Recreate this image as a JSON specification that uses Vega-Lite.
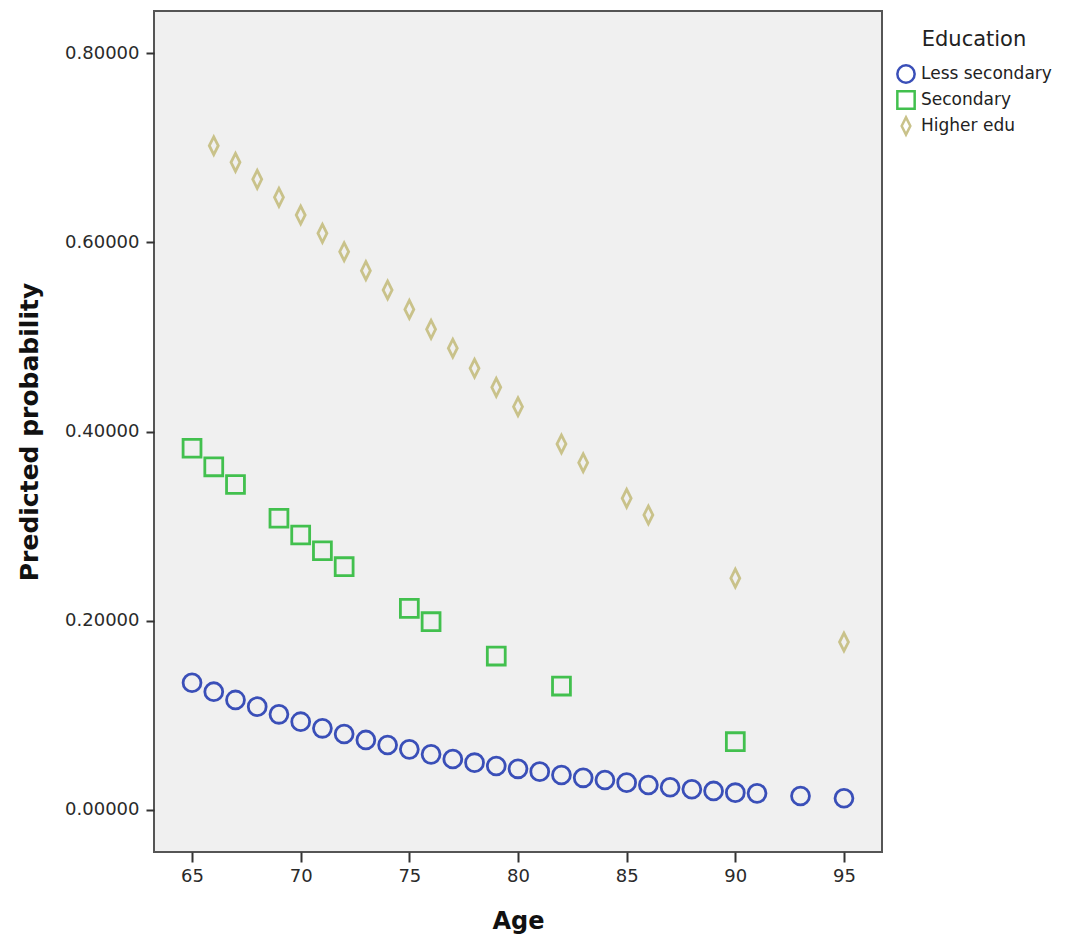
{
  "$schema": "https://vega.github.io/schema/vega-lite/v6.json",
  "width": 728,
  "height": 841,
  "autosize": "none",
  "padding": {"left": 154, "top": 11, "right": 191, "bottom": 86},
  "background": "white",
  "config": {
    "font": "DejaVu Sans",
    "view": {"fill": "#f0f0f0", "stroke": "#555555", "strokeWidth": 2},
    "axis": {"grid": false, "domain": false, "tickColor": "#333333", "tickWidth": 2, "labelColor": "#2a2a2a", "titleColor": "#111111", "labelFont": "DejaVu Sans", "titleFont": "DejaVu Sans"}
  },
  "data": {
    "values": [
      {"Age": 65, "Prob": 0.1345, "Education": "Less secondary"},
      {"Age": 66, "Prob": 0.125, "Education": "Less secondary"},
      {"Age": 67, "Prob": 0.1163, "Education": "Less secondary"},
      {"Age": 68, "Prob": 0.1092, "Education": "Less secondary"},
      {"Age": 69, "Prob": 0.1011, "Education": "Less secondary"},
      {"Age": 70, "Prob": 0.0933, "Education": "Less secondary"},
      {"Age": 71, "Prob": 0.0863, "Education": "Less secondary"},
      {"Age": 72, "Prob": 0.0803, "Education": "Less secondary"},
      {"Age": 73, "Prob": 0.074, "Education": "Less secondary"},
      {"Age": 74, "Prob": 0.0687, "Education": "Less secondary"},
      {"Age": 75, "Prob": 0.0641, "Education": "Less secondary"},
      {"Age": 76, "Prob": 0.0588, "Education": "Less secondary"},
      {"Age": 77, "Prob": 0.0539, "Education": "Less secondary"},
      {"Age": 78, "Prob": 0.05, "Education": "Less secondary"},
      {"Age": 79, "Prob": 0.0465, "Education": "Less secondary"},
      {"Age": 80, "Prob": 0.0435, "Education": "Less secondary"},
      {"Age": 81, "Prob": 0.0405, "Education": "Less secondary"},
      {"Age": 82, "Prob": 0.037, "Education": "Less secondary"},
      {"Age": 83, "Prob": 0.034, "Education": "Less secondary"},
      {"Age": 84, "Prob": 0.0317, "Education": "Less secondary"},
      {"Age": 85, "Prob": 0.0289, "Education": "Less secondary"},
      {"Age": 86, "Prob": 0.0264, "Education": "Less secondary"},
      {"Age": 87, "Prob": 0.024, "Education": "Less secondary"},
      {"Age": 88, "Prob": 0.0219, "Education": "Less secondary"},
      {"Age": 89, "Prob": 0.0201, "Education": "Less secondary"},
      {"Age": 90, "Prob": 0.0183, "Education": "Less secondary"},
      {"Age": 91, "Prob": 0.0176, "Education": "Less secondary"},
      {"Age": 93, "Prob": 0.0148, "Education": "Less secondary"},
      {"Age": 95, "Prob": 0.0124, "Education": "Less secondary"},
      {"Age": 65, "Prob": 0.3823, "Education": "Secondary"},
      {"Age": 66, "Prob": 0.3627, "Education": "Secondary"},
      {"Age": 67, "Prob": 0.344, "Education": "Secondary"},
      {"Age": 69, "Prob": 0.3083, "Education": "Secondary"},
      {"Age": 70, "Prob": 0.2906, "Education": "Secondary"},
      {"Age": 71, "Prob": 0.274, "Education": "Secondary"},
      {"Age": 72, "Prob": 0.2571, "Education": "Secondary"},
      {"Age": 75, "Prob": 0.2131, "Education": "Secondary"},
      {"Age": 76, "Prob": 0.199, "Education": "Secondary"},
      {"Age": 79, "Prob": 0.1627, "Education": "Secondary"},
      {"Age": 82, "Prob": 0.131, "Education": "Secondary"},
      {"Age": 90, "Prob": 0.0722, "Education": "Secondary"},
      {"Age": 66, "Prob": 0.702, "Education": "Higher edu"},
      {"Age": 67, "Prob": 0.6845, "Education": "Higher edu"},
      {"Age": 68, "Prob": 0.6665, "Education": "Higher edu"},
      {"Age": 69, "Prob": 0.6475, "Education": "Higher edu"},
      {"Age": 70, "Prob": 0.6288, "Education": "Higher edu"},
      {"Age": 71, "Prob": 0.6094, "Education": "Higher edu"},
      {"Age": 72, "Prob": 0.59, "Education": "Higher edu"},
      {"Age": 73, "Prob": 0.57, "Education": "Higher edu"},
      {"Age": 74, "Prob": 0.5495, "Education": "Higher edu"},
      {"Age": 75, "Prob": 0.529, "Education": "Higher edu"},
      {"Age": 76, "Prob": 0.508, "Education": "Higher edu"},
      {"Age": 77, "Prob": 0.488, "Education": "Higher edu"},
      {"Age": 78, "Prob": 0.4668, "Education": "Higher edu"},
      {"Age": 79, "Prob": 0.4467, "Education": "Higher edu"},
      {"Age": 80, "Prob": 0.4262, "Education": "Higher edu"},
      {"Age": 82, "Prob": 0.3868, "Education": "Higher edu"},
      {"Age": 83, "Prob": 0.367, "Education": "Higher edu"},
      {"Age": 85, "Prob": 0.3294, "Education": "Higher edu"},
      {"Age": 86, "Prob": 0.3118, "Education": "Higher edu"},
      {"Age": 90, "Prob": 0.245, "Education": "Higher edu"},
      {"Age": 95, "Prob": 0.1775, "Education": "Higher edu"}
    ]
  },
  "mark": {"type": "point", "filled": false, "size": 320, "strokeWidth": 2.8, "opacity": 1},
  "encoding": {
    "x": {
      "field": "Age", "type": "quantitative",
      "scale": {"domain": [63.25, 96.75], "nice": false, "zero": false},
      "axis": {"values": [65, 70, 75, 80, 85, 90, 95], "tickSize": 10, "labelFontSize": 18, "labelPadding": 5, "title": "Age", "titleFontSize": 24, "titleFontWeight": "bold", "titlePadding": 24}
    },
    "y": {
      "field": "Prob", "type": "quantitative",
      "scale": {"domain": [-0.0444, 0.8444], "nice": false, "zero": false},
      "axis": {"values": [0, 0.2, 0.4, 0.6, 0.8], "format": ".5f", "tickSize": 8, "labelFontSize": 18, "labelPadding": 7, "title": "Predicted probability", "titleFontSize": 25, "titleFontWeight": "bold", "titlePadding": 22}
    },
    "color": {
      "field": "Education", "type": "nominal",
      "scale": {"domain": ["Less secondary", "Secondary", "Higher edu"], "range": ["#3a4fb8", "#42c04e", "#c9c28a"]},
      "legend": {"orient": "none", "legendX": 742, "legendY": 18, "title": "Education", "titleFontSize": 21, "titleFontWeight": "normal", "titleColor": "#222222", "titleAnchor": "middle", "titlePadding": 14, "labelFontSize": 17, "labelColor": "#222222", "labelOffset": 5, "symbolSize": 300, "symbolStrokeWidth": 2.5, "rowPadding": -2, "padding": 0}
    },
    "shape": {
      "field": "Education", "type": "nominal",
      "scale": {"domain": ["Less secondary", "Secondary", "Higher edu"], "range": ["circle", "square", "M0,-1L0.5,0L0,1L-0.5,0Z"]}
    }
  }
}
